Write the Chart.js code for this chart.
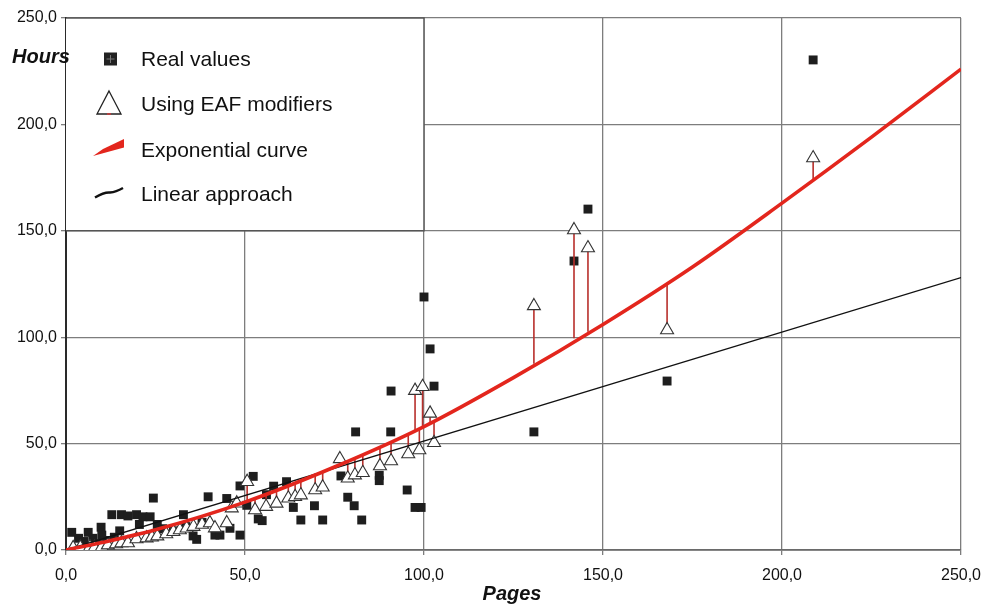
<!DOCTYPE html>
<html>
<head>
<meta charset="utf-8">
<script src="https://cdn.jsdelivr.net/npm/chart.js@4.4.1/dist/chart.umd.min.js"></script>
<style>
  html,body{margin:0;padding:0;background:#fff;}
  #wrap{width:995px;height:607px;}
</style>
</head>
<body>
<div id="wrap"><canvas id="c" width="995" height="607"></canvas></div>
<script>
// ---------- data ----------
const realX = [1.6,3.5,5,6.2,7.5,8.5,9.8,10,11,12.8,13.5,15,15.5,17.3,19.7,20.5,21.5,23.5,24.4,25.5,27,30,32.8,33.5,35.5,36.5,38,39.7,41.6,43,44.9,45.8,48.6,48.6,50.5,52.3,53.7,54.8,56,58,61.6,63.5,65.6,69.4,71.7,76.8,78.7,80.5,80.9,82.6,87.5,87.5,90.7,90.8,95.3,97.5,99.2,100,101.7,102.8,130.7,141.9,145.8,167.9,208.7];
const realY = [8.3,5.5,4,8.3,5.5,3,10.7,7,4.5,16.6,6,9,16.6,16,16.6,12,15.6,15.6,24.4,12,10,9,16.6,11,6.6,5,13,25,7,7,24.2,10.2,7,30.1,21,34.6,14.6,13.8,26,30,32.1,20,14.1,20.8,14.1,34.8,24.8,20.8,55.5,14.1,35.1,32.6,55.5,74.7,28.2,20,20,118.9,94.5,77,55.5,135.8,160.2,79.4,230.3];

const eafX = [2,4,6.7,8,10,11.7,14,15.5,17.3,19.7,22.5,24,25.5,28,30,31.8,33.7,35.6,38,40.2,41.6,44.9,46.3,47.7,50.6,52.8,55.9,58.8,62.1,64,65.6,69.6,71.7,76.5,78.7,80.7,82.9,87.7,90.8,95.6,97.5,98.7,99.6,101.7,102.8,130.7,141.9,145.8,167.9,208.7];
const eafY = [1,1.2,1.4,1.2,1.4,2.3,2.8,3.3,3.3,5.2,5.6,6,6.5,7.5,8.6,9.4,10.2,11,12,12.7,10.3,12.7,19.7,22,32.1,18.8,20.4,21.9,24.3,25,25.8,28.2,29.5,42.8,33.7,35.2,36.3,39.5,41.8,45.1,74.9,47,76.7,64.2,50.4,114.7,150.4,141.9,103.4,184.2];

// Exponential curve, read at several page counts
const expX = [0,10,25,50,75,100,125,150,175,200,225,250];
const expY = [0,3.5,9.5,22.5,39,58,81,106,133,163,194,226];

// Linear approach
const linX = [0,250];
const linY = [0,128];

// Residual lines: page count, EAF value, value on the exponential curve
const resX   = [50.6,52.8,55.9,58.8,62.1,64,65.6,69.6,71.7,76.5,78.7,80.7,82.9,87.7,90.8,95.6,97.5,98.7,99.6,101.7,102.8,130.7,141.9,145.8,167.9,208.7];
const resEaf = [32.1,18.8,20.4,21.9,24.3,25,25.8,28.2,29.5,42.8,33.7,35.2,36.3,39.5,41.8,45.1,74.9,47,76.7,64.2,50.4,114.7,150.4,141.9,103.4,184.2];
const resFit = [22.8,24.5,26.5,28.5,30.7,32,33,35.8,37.3,40.5,42,43.5,45,48.5,51,54.5,56,57,57.7,59.5,60.5,87.5,99.5,102.6,124.8,174];

const xTickLabels = ['0,0','50,0','100,0','150,0','200,0','250,0'];
const yTickLabels = ['0,0','50,0','100,0','150,0','200,0','250,0'];
const legendLabels = ['Real values','Using EAF modifiers','Exponential curve','Linear approach'];
const xTitle = 'Pages';
const yTitle = 'Hours';

// ---------- build datasets ----------
const zip = (xs, ys) => xs.map((x, i) => ({x: x, y: ys[i]}));
const resData = [];
resX.forEach((x, i) => {
  resData.push({x: x, y: resFit[i]});
  resData.push({x: x, y: resEaf[i]});
  resData.push({x: x, y: null});
});

const FONT = "'Liberation Sans', Arial, sans-serif";
Chart.defaults.font.family = FONT;
Chart.defaults.color = '#111';

const overlay = {
  id: 'overlay',
  beforeDatasetsDraw(chart) {
    const ctx = chart.ctx, xs = chart.scales.x, ys = chart.scales.y;
    const l = xs.getPixelForValue(0), r = xs.getPixelForValue(100);
    const t = ys.getPixelForValue(250), b = ys.getPixelForValue(150);
    ctx.save();
    ctx.fillStyle = '#fff';
    ctx.fillRect(l, t, r - l, b - t);
    ctx.strokeStyle = '#555';
    ctx.lineWidth = 1.5;
    ctx.beginPath();
    ctx.moveTo(l, t); ctx.lineTo(r, t); ctx.lineTo(r, b); ctx.lineTo(l, b);
    ctx.stroke();
    ctx.restore();
  },
  afterDraw(chart) {
    const ctx = chart.ctx;
    ctx.save();
    // legend entries
    const rows = [59, 104, 150, 194];
    ctx.font = "21px " + FONT;
    ctx.fillStyle = '#111';
    ctx.textBaseline = 'middle';
    ctx.textAlign = 'left';
    legendLabels.forEach((t, i) => ctx.fillText(t, 141, rows[i] + 1));
    // square marker
    ctx.fillStyle = '#222';
    ctx.fillRect(104, rows[0] - 6.5, 13, 13);
    ctx.strokeStyle = '#777'; ctx.lineWidth = 1;
    ctx.beginPath();
    ctx.moveTo(110.5, rows[0] - 4); ctx.lineTo(110.5, rows[0] + 4);
    ctx.moveTo(106.5, rows[0]); ctx.lineTo(114.5, rows[0]);
    ctx.stroke();
    // triangle marker
    ctx.fillStyle = '#fff'; ctx.strokeStyle = '#222'; ctx.lineWidth = 1.3;
    ctx.beginPath();
    ctx.moveTo(109, rows[1] - 13); ctx.lineTo(121, rows[1] + 10); ctx.lineTo(97, rows[1] + 10); ctx.closePath();
    ctx.fill(); ctx.stroke();
    ctx.strokeStyle = '#d33'; ctx.beginPath();
    ctx.moveTo(107, rows[1] + 10); ctx.lineTo(111, rows[1] + 10); ctx.stroke();
    // red stroke marker
    ctx.fillStyle = '#e3261d';
    ctx.beginPath();
    ctx.moveTo(93, 156); ctx.lineTo(103, 149); ctx.lineTo(124, 139); ctx.lineTo(124, 147.5); ctx.closePath();
    ctx.fill();
    // black stroke marker
    ctx.strokeStyle = '#111'; ctx.lineWidth = 2.4;
    ctx.beginPath();
    ctx.moveTo(95, 197.5); ctx.quadraticCurveTo(104, 192, 110, 192.5); ctx.quadraticCurveTo(116, 192, 123, 188);
    ctx.stroke();
    // axis titles
    ctx.fillStyle = '#111';
    ctx.font = "italic bold 20px " + FONT;
    ctx.textAlign = 'left';
    ctx.fillText(yTitle, 12, 57);
    ctx.textAlign = 'center';
    ctx.fillText(xTitle, 512, 594);
    ctx.restore();
  }
};

const gridColor = '#7d7d7d';

new Chart(document.getElementById('c'), {
  type: 'scatter',
  data: {
    datasets: [
      { label: legendLabels[2], data: zip(expX, expY), showLine: true, borderColor: '#e3261d', borderWidth: 3.6, pointRadius: 0, cubicInterpolationMode: 'monotone', fill: false },
      { label: legendLabels[3], data: zip(linX, linY), showLine: true, borderColor: '#111', borderWidth: 1.4, pointRadius: 0, fill: false },
      { label: legendLabels[1], data: zip(eafX, eafY), pointStyle: 'triangle', pointRadius: 7.5, backgroundColor: '#fff', borderColor: '#333', borderWidth: 1.1 },
      { label: 'residual', data: resData, showLine: true, spanGaps: false, borderColor: '#b8302c', borderWidth: 1.6, pointRadius: 0 },
      { label: legendLabels[0], data: zip(realX, realY), pointStyle: 'rect', pointRadius: 6.3, backgroundColor: '#1e1e1e', borderColor: '#1e1e1e', borderWidth: 0 }
    ]
  },
  options: {
    responsive: false,
    devicePixelRatio: 1,
    animation: false,
    layout: { padding: { top: 18, right: 34, left: 0, bottom: 0 } },
    plugins: { legend: { display: false }, tooltip: { enabled: false } },
    scales: {
      x: {
        type: 'linear', min: 0, max: 250,
        afterFit: s => { s.height = 57; },
        ticks: { stepSize: 50, padding: 11, font: { size: 16 }, color: '#111', maxRotation: 0,
          callback: v => xTickLabels[Math.round(v / 50)] },
        grid: { color: gridColor, lineWidth: 1.3, tickLength: 5 },
        border: { color: '#6a6a6a', width: 1.8 }
      },
      y: {
        type: 'linear', min: 0, max: 250,
        afterFit: s => { s.width = 66; },
        ticks: { stepSize: 50, padding: 4, font: { size: 16 }, color: '#111',
          callback: v => yTickLabels[Math.round(v / 50)] },
        grid: { color: gridColor, lineWidth: 1.3, tickLength: 5 },
        border: { color: '#2a2a2a', width: 2 }
      }
    }
  },
  plugins: [overlay]
});
</script>
</body>
</html>
